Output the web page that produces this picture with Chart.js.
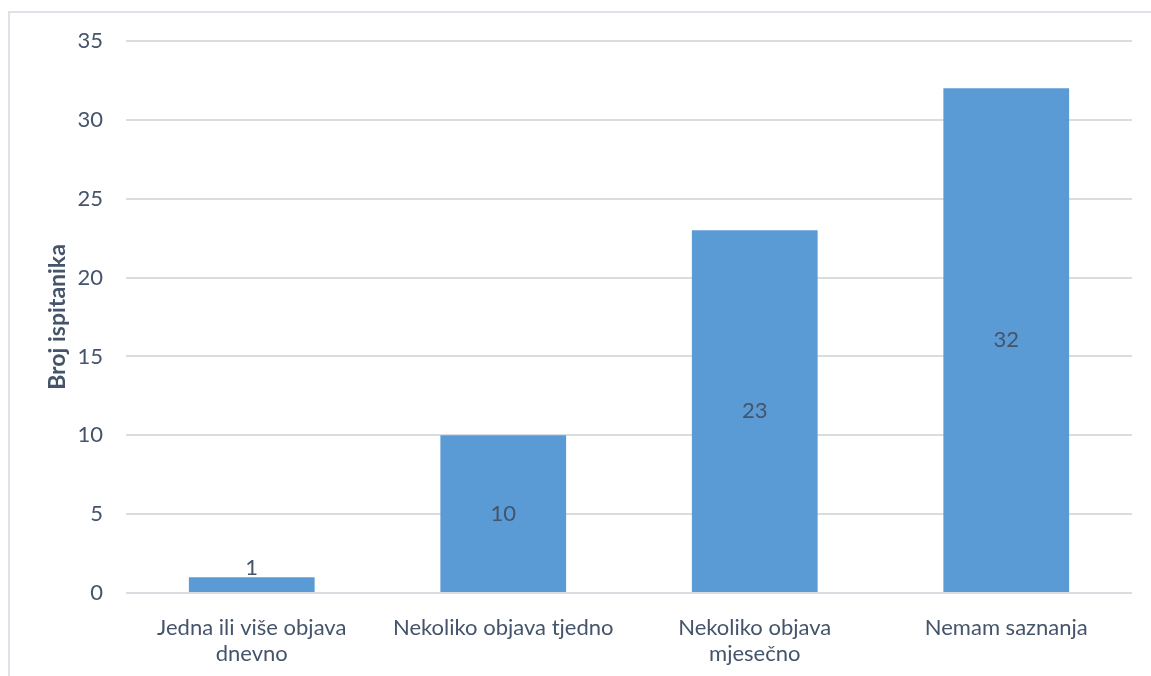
<!DOCTYPE html>
<html>
<head>
<meta charset="utf-8">
<script src="https://cdn.jsdelivr.net/npm/chart.js@4"></script>
<style>
  html, body { margin: 0; padding: 0; background: #fff; }
  #frame { position: absolute; left: 8px; top: 11px; width: 1160px; height: 700px; border: 2px solid #DEE2E8; box-sizing: border-box; }
  #wrap { position: absolute; left: 0; top: 0; width: 1151px; height: 676px; }
</style>
</head>
<body>
<div id="frame"></div>
<div id="wrap"><canvas id="freqChart"></canvas></div>
<script>
var categories = [['Jedna ili više objava', 'dnevno'], 'Nekoliko objava tjedno', ['Nekoliko objava', 'mjesečno'], 'Nemam saznanja'];
var respondents = [1, 10, 23, 32];
var yTicks = [0, 5, 10, 15, 20, 25, 30, 35];

var textColor = '#44546A';

// value labels: centred in the bar, above it if the bar is too short
var valueLabels = {
    id: 'valueLabels',
    afterDatasetsDraw: function (chart) {
        var ctx = chart.ctx;
        var meta = chart.getDatasetMeta(0);
        ctx.save();
        ctx.font = '22px Lato';
        ctx.fillStyle = textColor;
        ctx.textAlign = 'center';
        meta.data.forEach(function (bar, i) {
            var h = bar.base - bar.y;
            if (h > 30) {
                ctx.textBaseline = 'middle';
                ctx.fillText(respondents[i], bar.x, (bar.y + bar.base) / 2);
            } else {
                ctx.textBaseline = 'alphabetic';
                ctx.fillText(respondents[i], bar.x, bar.y - 2);
            }
        });
        ctx.restore();
    }
};

var ctx = document.getElementById('freqChart').getContext('2d');
var freqChart = new Chart(ctx, {
    type: 'bar',
    data: {
        labels: categories,
        datasets: [{
            label: 'Broj ispitanika',
            data: respondents,
            backgroundColor: '#5B9BD5',
            categoryPercentage: 1,
            barPercentage: 0.5
        }]
    },
    options: {
        responsive: true,
        maintainAspectRatio: false,
        animation: false,
        layout: { padding: { top: 41, right: 19, left: 0, bottom: 0 } },
        plugins: {
            legend: { display: false },
            tooltip: { enabled: false }
        },
        scales: {
            x: {
                grid: { display: false },
                border: { display: false },
                ticks: {
                    color: textColor,
                    font: { family: 'Lato', size: 22, lineHeight: 1.18 },
                    padding: 14,
                    maxRotation: 0,
                    autoSkip: false
                },
                afterFit: function (scale) { scale.height = 83; }
            },
            y: {
                min: 0,
                max: 35,
                afterBuildTicks: function (scale) {
                    scale.ticks = yTicks.map(function (v) { return { value: v }; });
                },
                grid: { color: '#D9DCE1', lineWidth: 2, drawTicks: false },
                border: { display: false },
                ticks: {
                    color: textColor,
                    font: { family: 'Lato', size: 22 },
                    padding: 23
                },
                title: {
                    display: true,
                    text: 'Broj ispitanika',
                    color: textColor,
                    font: { family: 'Lato', size: 23, weight: 'bold' },
                    padding: { top: 44, bottom: 0 }
                },
                afterFit: function (scale) { scale.width = 126; }
            }
        }
    },
    plugins: [valueLabels]
});
</script>
</body>
</html>
